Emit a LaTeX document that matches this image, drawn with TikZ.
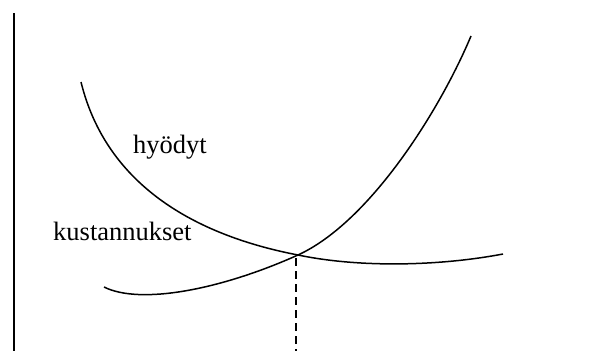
\documentclass[tikz,border=0pt]{standalone}
\usepackage{fontspec}
\setmainfont{Liberation Serif}
\usepackage{tikz}
\usetikzlibrary{positioning}

\begin{document}
\begin{tikzpicture}[x=1pt, y=-1pt, curve/.style={line width=1.5pt}, every node/.style={font=\fontsize{26.5}{30}\selectfont, inner sep=0pt, anchor=base west}]
    \useasboundingbox (0,0) rectangle (594,351);

    % axis
    \coordinate (top) at (14,13);
    \coordinate (bottom) at (14,351);
    \draw [line width=1.6pt] (top) -- (bottom);

    % curves
    \coordinate (cross) at (298,255);
    \coordinate (foot) at (296,351);
    \draw [curve] (81,82) .. controls (110,200) and (220,240) .. (cross) .. controls (360,268) and (440,266) .. (503,254);
    \draw [curve] (104,287) .. controls (140,305) and (220,290) .. (cross) .. controls (370,222) and (440,110) .. (471,36);
    \draw [line width=1.3pt, dash pattern=on 8pt off 5pt] (296,258) -- (foot);

    % labels
    \node (benefit) at (133,153) {hyödyt};
    \node (cost) at (53,240) {kustannukset};
\end{tikzpicture}
\end{document}
